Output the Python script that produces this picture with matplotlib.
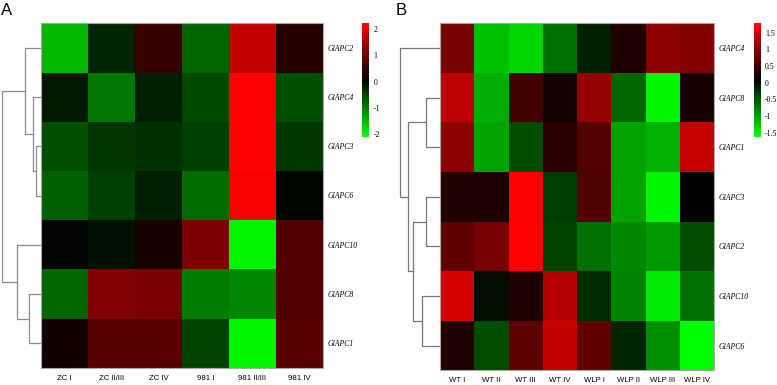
import numpy as np
import matplotlib
matplotlib.use('Agg')
import matplotlib.pyplot as plt
from matplotlib.colors import LinearSegmentedColormap, Normalize

# ---- panel A data ----
samples_a = ['ZC I', 'ZC II/III', 'ZC IV', '981 I', '981 II/III', '981 IV']
genes_a = ['GlAPC2', 'GlAPC4', 'GlAPC3', 'GlAPC6', 'GlAPC10', 'GlAPC8', 'GlAPC1']
values_a = np.array([
    [-1.50, -0.25, 0.50, -0.80, 1.70, 0.40],
    [-0.15, -0.95, -0.20, -0.55, 2.20, -0.60],
    [-0.60, -0.40, -0.35, -0.45, 2.20, -0.40],
    [-0.75, -0.45, -0.20, -0.85, 2.15, 0.02],
    [0.03, -0.08, 0.25, 1.10, -2.00, 0.75],
    [-0.80, 1.15, 1.10, -1.00, -1.10, 0.75],
    [0.20, 0.80, 0.80, -0.50, -2.00, 0.80],
])
# merges (left, right, distance); leaves 0..6, new clusters numbered from 7
links_a = [(2, 3, 5), (1, 7, 8), (0, 8, 16), (5, 6, 12), (4, 10, 24), (9, 11, 39)]

# ---- panel B data ----
samples_b = ['WT I', 'WT II', 'WT III', 'WT IV', 'WLP I', 'WLP II', 'WLP III', 'WLP IV']
genes_b = ['GlAPC4', 'GlAPC8', 'GlAPC1', 'GlAPC3', 'GlAPC2', 'GlAPC10', 'GlAPC6']
values_b = np.array([
    [0.87, -1.20, -1.35, -0.67, -0.13, 0.30, 1.00, 0.93],
    [1.33, -1.07, 0.50, 0.20, 1.07, -0.60, -1.55, 0.23],
    [1.00, -1.00, -0.43, 0.37, 0.63, -1.00, -1.10, 1.40],
    [0.30, 0.27, 1.78, -0.33, 0.60, -1.00, -1.55, 0.10],
    [0.73, 0.87, 1.78, -0.37, -0.67, -0.83, -0.93, -0.43],
    [1.50, 0.00, 0.30, 1.27, -0.20, -0.80, -1.47, -0.67],
    [0.30, -0.43, 0.70, 1.37, 0.73, -0.17, -0.87, -1.62],
])
links_b = [(1, 2, 14), (3, 4, 14), (5, 6, 18), (8, 9, 27), (7, 10, 32), (0, 11, 40)]

W, H = 777, 385
cmap = LinearSegmentedColormap.from_list('gkr', ['#00ff00', '#000000', '#ff0000'])


def px(x0, y0, x1, y1):
    return [x0 / W, 1 - y1 / H, (x1 - x0) / W, (y1 - y0) / H]


def draw_dendro(ax, links, n, color):
    pos = {i: (0.0, i + 0.5) for i in range(n)}
    for k, (a, b, h) in enumerate(links):
        xa, ya = pos[a]
        xb, yb = pos[b]
        ax.plot([xa, h, h, xb], [ya, ya, yb, yb], color=color, lw=0.9)
        pos[n + k] = (h, (ya + yb) / 2)
    ax.set_ylim(n, 0)
    ax.axis('off')


def draw_panel(fig, vals, genes, samples, links, hm_box, dd_box, dd_max, cb_box,
               vmin, vmax, cticks, ctlabels, letter, letter_x, dcolor):
    ax = fig.add_axes(px(*hm_box))
    norm = Normalize(vmin=vmin, vmax=vmax)
    mesh = ax.pcolormesh(vals, cmap=cmap, norm=norm)
    ax.set_ylim(len(genes), 0)
    ax.set_xlim(0, len(samples))
    ax.set_xticks(np.arange(len(samples)) + 0.5)
    ax.set_xticklabels(samples, fontsize=5.6, family='Liberation Sans')
    ax.set_yticks(np.arange(len(genes)) + 0.5)
    ax.set_yticklabels(genes, fontsize=5.6, family='Liberation Serif', style='italic')
    ax.yaxis.tick_right()
    ax.tick_params(length=0, pad=3)
    ax.tick_params(axis='x', pad=5)
    for s in ax.spines.values():
        s.set_color('#aaaaaa')
        s.set_linewidth(0.8)

    dax = fig.add_axes(px(*dd_box))
    draw_dendro(dax, links, len(genes), dcolor)
    dax.set_xlim(dd_max, 0)

    cax = fig.add_axes(px(*cb_box))
    cb = fig.colorbar(mesh, cax=cax)
    cb.outline.set_visible(False)
    cb.set_ticks(cticks)
    cb.set_ticklabels(ctlabels)
    cax.tick_params(length=0, pad=3, labelsize=5.6)
    for t in cax.get_yticklabels():
        t.set_family('Liberation Serif')

    fig.text(letter_x / W, 1 - 3 / H, letter, fontsize=12, family='Liberation Sans',
             va='top', ha='left')


fig = plt.figure(figsize=(W / 100, H / 100), dpi=100)

draw_panel(fig, values_a, genes_a, samples_a, links_a,
           (41, 23.3, 323, 367.7), (0, 23.3, 41, 367.7), 41,
           (361.7, 23.3, 369.3, 136.7), -2.1, 2.22,
           [-2, -1, 0, 1, 2], ['-2', '-1', '0', '1', '2'], 'A', 1, '#8c8c8c')

draw_panel(fig, values_b, genes_b, samples_b, links_b,
           (440, 23.3, 714, 370.3), (398, 23.3, 440, 370.3), 42,
           (754, 23.3, 760.7, 136.7), -1.62, 1.78,
           [-1.5, -1, -0.5, 0, 0.5, 1, 1.5], ['-1.5', '-1', '-0.5', '0', '0.5', '1', '1.5'],
           'B', 396, '#777777')

fig.savefig('out.png', dpi=100)
